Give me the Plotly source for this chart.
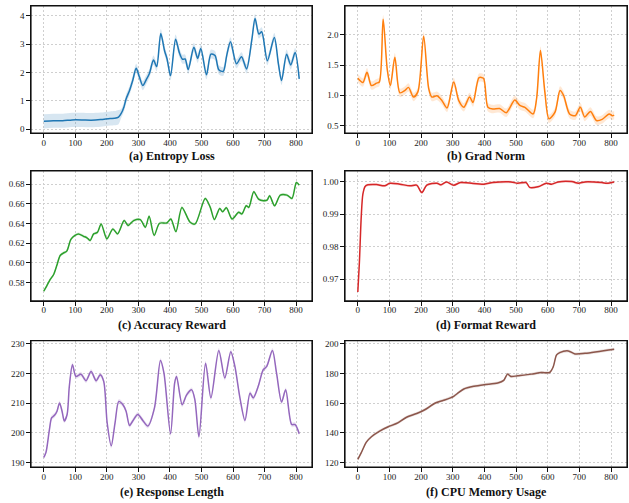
import plotly.graph_objects as go

steps_entropy = [0, 30, 60, 90, 120, 150, 180, 210, 225, 237, 245, 254, 261, 272, 282, 293, 303, 314, 325, 335,
                 348, 358, 371, 383, 391, 402, 418, 430, 440, 448, 458, 476, 488, 498, 516, 530, 543, 555, 569,
                 580, 592, 611, 627, 643, 660, 670, 682, 691, 709, 731, 744, 754, 770, 783, 797, 810]
entropy_loss = [0.28, 0.30, 0.30, 0.33, 0.33, 0.32, 0.34, 0.38, 0.39, 0.43, 0.55, 0.78, 1.07, 1.37, 1.72, 2.15,
                1.85, 1.54, 1.75, 1.97, 2.44, 2.21, 3.38, 2.77, 2.48, 1.89, 3.18, 2.70, 2.47, 2.48, 2.11, 2.89,
                2.50, 2.85, 1.92, 2.65, 2.60, 2.10, 2.04, 2.60, 3.09, 2.31, 2.56, 2.13, 3.18, 3.91, 3.36, 3.44,
                2.42, 3.24, 2.31, 1.72, 2.65, 2.27, 2.71, 1.78]
entropy_std = [0.25] * 10 + [0.16] * 46

steps_grad = [0, 16, 29, 43, 59, 68, 80, 93, 103, 117, 133, 149, 160, 176, 190, 208, 224, 234, 250, 266, 282,
              303, 319, 335, 353, 364, 383, 397, 411, 427, 448, 469, 496, 512, 528, 554, 565, 577, 591, 604,
              623, 639, 650, 669, 687, 703, 717, 735, 754, 772, 794, 804, 810]
grad_norm = [1.28, 1.21, 1.38, 1.16, 1.20, 1.22, 2.26, 1.43, 1.16, 1.63, 1.04, 1.08, 1.13, 0.97, 1.06, 1.98,
             1.11, 0.97, 0.99, 0.91, 0.79, 1.22, 0.91, 0.80, 0.97, 0.88, 1.29, 1.28, 0.80, 0.77, 0.78, 0.71,
             0.92, 0.83, 0.80, 0.69, 0.95, 1.74, 1.05, 0.61, 0.72, 1.08, 1.00, 0.69, 0.66, 0.80, 0.64, 0.73,
             0.58, 0.60, 0.69, 0.66, 0.67]
grad_std = 0.07

steps_acc = [0, 10, 20, 31, 41, 52, 62, 73, 86, 99, 110, 126, 136, 147, 158, 170, 182, 200, 219, 234, 255,
             267, 285, 306, 322, 334, 350, 367, 390, 403, 419, 438, 464, 480, 512, 528, 541, 558, 567, 579,
             597, 618, 628, 642, 650, 666, 681, 697, 708, 716, 732, 750, 771, 787, 801, 810]
accuracy_reward = [0.5713, 0.577, 0.583, 0.588, 0.597, 0.6076, 0.610, 0.612, 0.624, 0.628, 0.6295, 0.627,
                   0.6258, 0.6228, 0.6295, 0.631, 0.6396, 0.6245, 0.6345, 0.6295, 0.643, 0.638, 0.643, 0.644,
                   0.6362, 0.6473, 0.628, 0.6403, 0.6406, 0.6446, 0.6318, 0.6564, 0.6413, 0.6396, 0.6655,
                   0.6564, 0.644, 0.6554, 0.652, 0.656, 0.6446, 0.6514, 0.6497, 0.6581, 0.6564, 0.6723,
                   0.6648, 0.6632, 0.6638, 0.6682, 0.6581, 0.6689, 0.6689, 0.6655, 0.6817, 0.679]
acc_std = 0.0015

steps_fmt = [0, 5, 11, 16, 23, 32, 59, 85, 101, 133, 165, 186, 202, 218, 250, 263, 280, 303, 324, 399, 426,
             484, 505, 532, 543, 569, 596, 612, 633, 676, 697, 718, 771, 787, 810]
format_reward = [0.966, 0.9752, 0.9896, 0.9962, 0.9986, 0.9991, 0.9992, 0.9988, 0.9996, 0.9993, 0.9988,
                 0.999, 0.9967, 0.999, 0.9996, 0.9991, 1.0, 0.999, 0.9998, 0.9993, 0.9998, 1.0, 0.9996,
                 0.9998, 0.9983, 0.9985, 0.9996, 0.9993, 1.0, 1.0001, 0.9996, 1.0, 0.9998, 0.9996, 1.0]
fmt_std = 0.0004

steps_len = [0, 7, 18, 25, 34, 42, 50, 58, 65, 74, 81, 91, 102, 118, 134, 150, 166, 179, 190, 201, 214, 226,
             238, 251, 261, 272, 282, 298, 314, 330, 351, 370, 381, 402, 415, 421, 439, 453, 469, 479, 492,
             513, 530, 555, 574, 593, 606, 622, 638, 654, 664, 680, 696, 707, 725, 738, 754, 767, 786, 797, 810]
response_length = [191.7, 193.4, 201.2, 205.1, 205.9, 207.3, 210.1, 207.3, 204.0, 206.2, 215.7, 223.0, 219.0,
                   219.8, 217.6, 220.7, 217.6, 219.6, 217.4, 203.4, 195.6, 203.4, 210.6, 209.5, 207.3, 202.5,
                   204.0, 206.2, 204.2, 202.3, 208.4, 224.4, 220.2, 199.7, 216.8, 219.0, 209.5, 212.8, 214.5,
                   211.2, 198.7, 223.5, 211.8, 227.8, 218.5, 227.4, 222.4, 211.8, 204.2, 213.4, 211.8, 215.7,
                   221.3, 222.4, 227.8, 220.2, 210.4, 214.5, 202.8, 202.8, 199.7]
len_std = 0.8

steps_cpu = [0, 11, 27, 43, 69, 96, 122, 154, 186, 213, 245, 271, 303, 319, 335, 367, 399, 442, 461, 473, 484,
             505, 548, 580, 606, 617, 628, 638, 665, 686, 718, 810]
cpu_memory = [122.2, 126.7, 133.8, 137.4, 141.2, 144.1, 146.3, 150.5, 153.0, 155.7, 160.1, 161.9, 164.6,
              167.2, 169.5, 171.3, 172.4, 173.5, 175.3, 179.5, 177.9, 178.4, 179.5, 180.6, 180.6, 184.2,
              192.4, 194.0, 195.1, 193.1, 193.5, 196.3]
cpu_std = 1.0

titles = ["(a) Entropy Loss", "(b) Grad Norm", "(c) Accuracy Reward", "(d) Format Reward",
          "(e) Response Length", "(f) CPU Memory Usage"]
colors = ["#1f77b4", "#ff7f0e", "#2ca02c", "#d62728", "#9467bd", "#8c564b"]
fills = ["rgba(31,119,180,0.18)", "rgba(255,127,14,0.18)", "rgba(44,160,44,0.18)",
         "rgba(214,39,40,0.18)", "rgba(148,103,189,0.18)", "rgba(140,86,75,0.18)"]

series = [
    (steps_entropy, entropy_loss, entropy_std),
    (steps_grad, grad_norm, grad_std),
    (steps_acc, accuracy_reward, acc_std),
    (steps_fmt, format_reward, fmt_std),
    (steps_len, response_length, len_std),
    (steps_cpu, cpu_memory, cpu_std),
]

yranges = [[-0.14, 4.35], [0.37, 2.48], [0.5614, 0.6934], [0.96324, 1.00338], [188.4, 231.1], [116.9, 202.0]]
ytickvals = [[0, 1, 2, 3, 4], [0.5, 1.0, 1.5, 2.0], [0.58, 0.60, 0.62, 0.64, 0.66, 0.68],
             [0.97, 0.98, 0.99, 1.00], [190, 200, 210, 220, 230], [120, 140, 160, 180, 200]]
ytickfmt = [".0f", ".1f", ".2f", ".2f", ".0f", ".0f"]

W, H = 629, 503
xdom = [[31 / W, 312 / W], [345 / W, 627 / W]]
ydom = [[1 - 132 / H, 1 - 4 / H], [1 - 300.7 / H, 1 - 170 / H], [1 - 468 / H, 1 - 340.7 / H]]
title_y = [1 - 155 / H, 1 - 324.5 / H, 1 - 492.7 / H]
serif = "Liberation Serif, Times New Roman, serif"

fig = go.Figure()
layout = dict(width=W, height=H, margin=dict(l=0, r=0, t=0, b=0), showlegend=False,
              paper_bgcolor="white", plot_bgcolor="white",
              font=dict(family=serif, size=9, color="#222"))
annotations = []
shapes = []
for i, (xs, ys, sd) in enumerate(series):
    r, c = divmod(i, 2)
    n = i + 1
    xa = "x" if n == 1 else f"x{n}"
    ya = "y" if n == 1 else f"y{n}"
    sds = sd if isinstance(sd, list) else [sd] * len(ys)
    lo = [v - s for v, s in zip(ys, sds)]
    hi = [v + s for v, s in zip(ys, sds)]
    fig.add_trace(go.Scatter(x=xs, y=lo, mode="lines", line=dict(width=0, shape="spline", smoothing=0.8),
                             xaxis=xa, yaxis=ya, hoverinfo="skip"))
    fig.add_trace(go.Scatter(x=xs, y=hi, mode="lines", line=dict(width=0, shape="spline", smoothing=0.8),
                             fill="tonexty", fillcolor=fills[i], xaxis=xa, yaxis=ya, hoverinfo="skip"))
    fig.add_trace(go.Scatter(x=xs, y=ys, mode="lines",
                             line=dict(color=colors[i], width=1.5, shape="spline", smoothing=0.8),
                             xaxis=xa, yaxis=ya))
    common = dict(showline=True, linecolor="#111", linewidth=1.2, mirror=True, ticks="outside",
                  ticklen=3.5, tickwidth=0.8, tickcolor="#111", showgrid=True, gridcolor="#cfcfcf",
                  gridwidth=0.7, griddash="2px,2px", zeroline=False,
                  tickfont=dict(family=serif, size=9, color="#222"))
    layout["xaxis" if n == 1 else f"xaxis{n}"] = dict(
        domain=xdom[c], anchor=ya, range=[-40.5, 850.5], tickvals=list(range(0, 801, 100)),
        ticklabelstandoff=-3, **common)
    layout["yaxis" if n == 1 else f"yaxis{n}"] = dict(
        domain=ydom[r], anchor=xa, range=yranges[i], tickvals=ytickvals[i], tickformat=ytickfmt[i], **common)
    shapes.append(dict(type="rect", xref=f"{xa} domain", yref=f"{ya} domain", x0=0, x1=1, y0=0, y1=1,
                       line=dict(color="#111", width=1.2), fillcolor="rgba(0,0,0,0)", layer="above"))
    annotations.append(dict(text=f"<b>{titles[i]}</b>", x=(xdom[c][0] + xdom[c][1]) / 2, y=title_y[r],
                            xref="paper", yref="paper", xanchor="center", yanchor="middle", showarrow=False,
                            font=dict(family=serif, size=12, color="#111")))
layout["annotations"] = annotations
layout["shapes"] = shapes
fig.update_layout(**layout)
fig.write_html("out.html", config={"displayModeBar": False},
               post_script="document.body.style.margin='0';document.body.style.overflow='hidden';")
